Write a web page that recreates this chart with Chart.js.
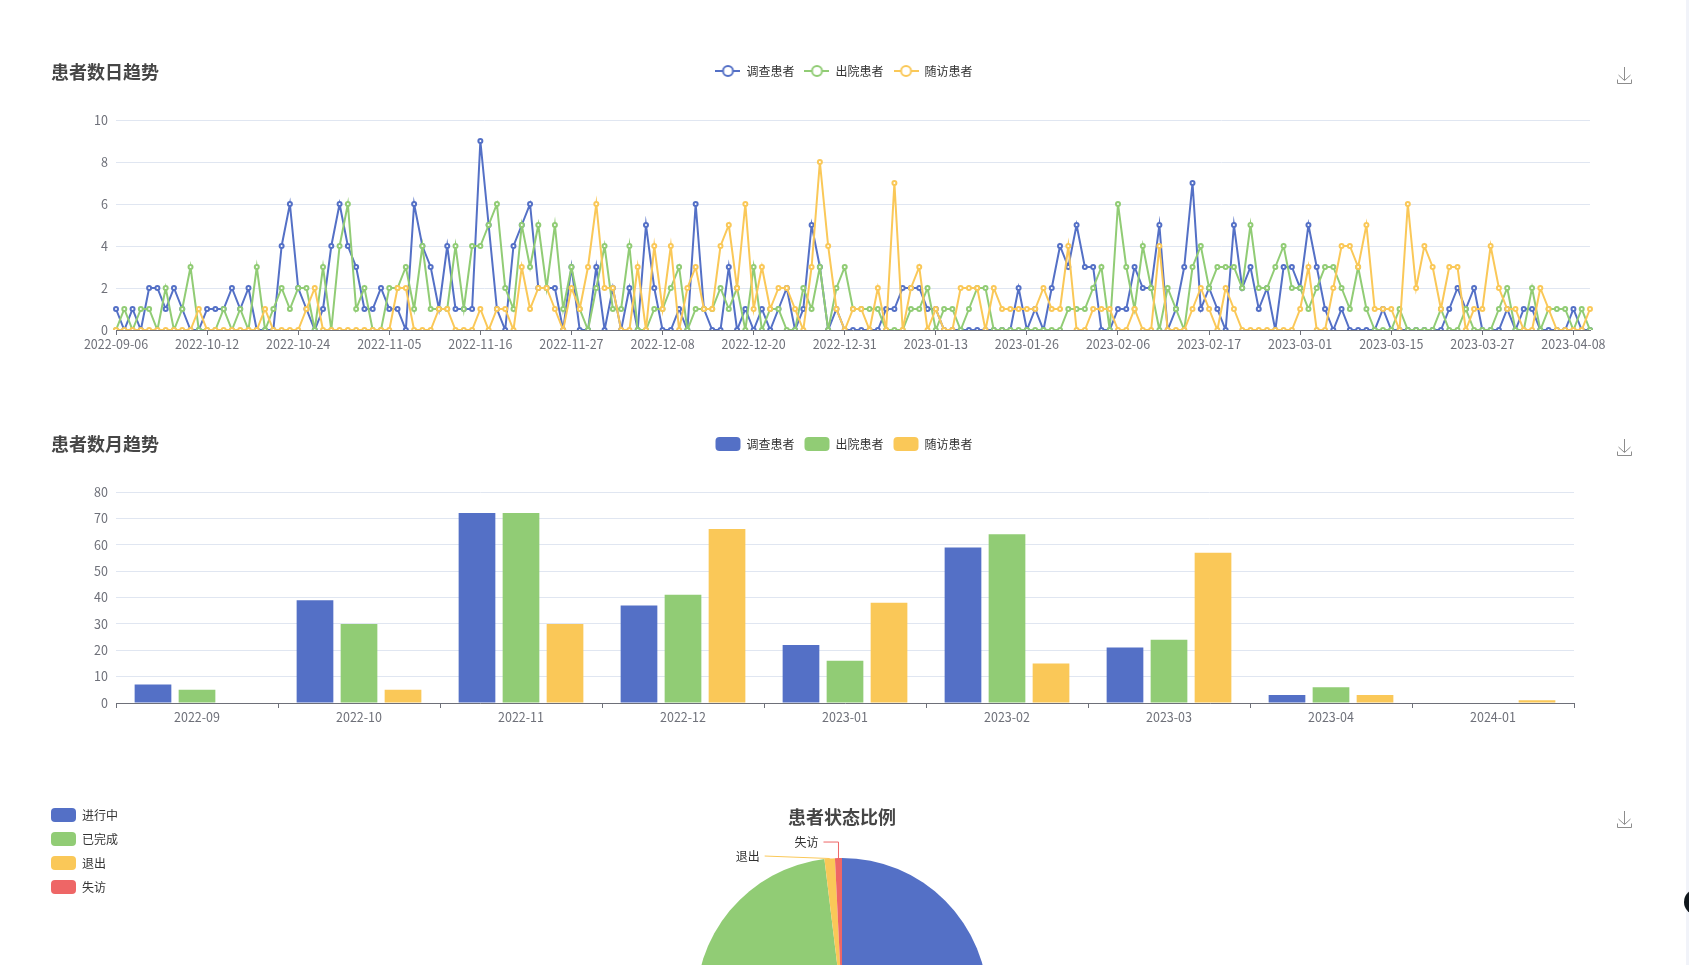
<!DOCTYPE html>
<html lang="zh">
<head>
<meta charset="utf-8">
<title>患者统计</title>
<script src="https://cdn.jsdelivr.net/npm/chart.js@4"></script>
<style>
  html, body { margin: 0; height: 100%; overflow: hidden; background: #fff; }
  canvas { position: absolute; left: 0; }
  #lineChart { top: 55px; }
  #barChart { top: 427px; }
  #pieChart { top: 798px; left: 1px; }
  .save { position: absolute; left: 1617px; width: 15px; height: 17px; }
  .strip { position: absolute; left: 1686px; top: 0; width: 3px; height: 100%; background: #f1f3f9; }
  .dot { position: absolute; left: 1684px; top: 889px; width: 26px; height: 26px; border-radius: 50%; background: #10181c; }
</style>
</head>
<body>
<canvas id="lineChart" width="1682" height="299"></canvas>
<canvas id="barChart" width="1682" height="300"></canvas>
<canvas id="pieChart" width="1682" height="412"></canvas>

<svg class="save" style="top:67px" viewBox="0 0 15 17"><path d="M7.5 0V13M1.5 8L7.5 13.5L13.5 8M.5 12.5V16.5H14.5V12.5" fill="none" stroke="#8c8c8c"/></svg>
<svg class="save" style="top:439px" viewBox="0 0 15 17"><path d="M7.5 0V13M1.5 8L7.5 13.5L13.5 8M.5 12.5V16.5H14.5V12.5" fill="none" stroke="#8c8c8c"/></svg>
<svg class="save" style="top:811px" viewBox="0 0 15 17"><path d="M7.5 0V13M1.5 8L7.5 13.5L13.5 8M.5 12.5V16.5H14.5V12.5" fill="none" stroke="#8c8c8c"/></svg>
<div class="strip"></div>
<div class="dot"></div>

<script>
const FONT = '"Noto Sans CJK SC", "Noto Sans", sans-serif';
const BLUE = "#5470c6";
const GREEN = "#91cc75";
const YELLOW = "#fac858";
const RED = "#ee6666";
Chart.defaults.font.family = FONT;
Chart.defaults.font.size = 12;
Chart.defaults.animation = false;

// ------------------------------------
// data
// ------------------------------------
const seriesNames = ["调查患者", "出院患者", "随访患者"];

// only every 11th date is printed on the axis, the others are estimates
const dayLabels = [
  "2022-09-06", "2022-09-07", "2022-09-08", "2022-09-09", "2022-09-13", "2022-09-15", "2022-09-19", "2022-09-22", "2022-09-26", "2022-09-29", "2022-10-08",
  "2022-10-12", "2022-10-13", "2022-10-14", "2022-10-15", "2022-10-16", "2022-10-17", "2022-10-18", "2022-10-19", "2022-10-20", "2022-10-21", "2022-10-23",
  "2022-10-24", "2022-10-25", "2022-10-26", "2022-10-27", "2022-10-28", "2022-10-29", "2022-10-30", "2022-10-31", "2022-11-01", "2022-11-02", "2022-11-04",
  "2022-11-05", "2022-11-06", "2022-11-07", "2022-11-08", "2022-11-09", "2022-11-10", "2022-11-11", "2022-11-12", "2022-11-13", "2022-11-14", "2022-11-15",
  "2022-11-16", "2022-11-17", "2022-11-18", "2022-11-19", "2022-11-20", "2022-11-21", "2022-11-22", "2022-11-23", "2022-11-24", "2022-11-25", "2022-11-26",
  "2022-11-27", "2022-11-28", "2022-11-29", "2022-11-30", "2022-12-01", "2022-12-02", "2022-12-03", "2022-12-04", "2022-12-05", "2022-12-06", "2022-12-07",
  "2022-12-08", "2022-12-09", "2022-12-10", "2022-12-11", "2022-12-12", "2022-12-13", "2022-12-14", "2022-12-15", "2022-12-16", "2022-12-17", "2022-12-19",
  "2022-12-20", "2022-12-21", "2022-12-22", "2022-12-23", "2022-12-24", "2022-12-25", "2022-12-26", "2022-12-27", "2022-12-28", "2022-12-29", "2022-12-30",
  "2022-12-31", "2023-01-01", "2023-01-02", "2023-01-03", "2023-01-04", "2023-01-05", "2023-01-06", "2023-01-08", "2023-01-09", "2023-01-10", "2023-01-12",
  "2023-01-13", "2023-01-14", "2023-01-15", "2023-01-16", "2023-01-17", "2023-01-18", "2023-01-19", "2023-01-20", "2023-01-21", "2023-01-23", "2023-01-25",
  "2023-01-26", "2023-01-27", "2023-01-28", "2023-01-29", "2023-01-30", "2023-01-31", "2023-02-01", "2023-02-02", "2023-02-03", "2023-02-04", "2023-02-05",
  "2023-02-06", "2023-02-07", "2023-02-08", "2023-02-09", "2023-02-10", "2023-02-11", "2023-02-12", "2023-02-13", "2023-02-14", "2023-02-15", "2023-02-16",
  "2023-02-17", "2023-02-18", "2023-02-19", "2023-02-20", "2023-02-21", "2023-02-22", "2023-02-23", "2023-02-24", "2023-02-25", "2023-02-26", "2023-02-28",
  "2023-03-01", "2023-03-02", "2023-03-03", "2023-03-04", "2023-03-06", "2023-03-07", "2023-03-08", "2023-03-09", "2023-03-10", "2023-03-12", "2023-03-14",
  "2023-03-15", "2023-03-16", "2023-03-17", "2023-03-18", "2023-03-19", "2023-03-20", "2023-03-21", "2023-03-22", "2023-03-23", "2023-03-24", "2023-03-26",
  "2023-03-27", "2023-03-28", "2023-03-29", "2023-03-30", "2023-03-31", "2023-04-01", "2023-04-02", "2023-04-03", "2023-04-04", "2023-04-05", "2023-04-07",
  "2023-04-08", "2023-04-09", "2023-04-10",
];

const dailySurvey = [
  1, 0, 1, 0, 2, 2, 1, 2, 1, 0,
  0, 1, 1, 1, 2, 1, 2, 0, 0, 0,
  4, 6, 2, 1, 0, 1, 4, 6, 4, 3,
  1, 1, 2, 1, 1, 0, 6, 4, 3, 1,
  4, 1, 1, 1, 9, 5, 1, 0, 4, 5,
  6, 2, 2, 2, 0, 3, 0, 0, 3, 0,
  2, 0, 2, 0, 5, 2, 0, 0, 1, 0,
  6, 1, 0, 0, 3, 0, 1, 0, 1, 0,
  1, 2, 0, 1, 5, 3, 0, 1, 0, 0,
  0, 0, 0, 1, 1, 2, 2, 2, 1, 1,
  0, 0, 0, 0, 0, 0, 0, 0, 0, 2,
  0, 1, 0, 2, 4, 3, 5, 3, 3, 0,
  0, 1, 1, 3, 2, 2, 5, 0, 1, 3,
  7, 1, 2, 1, 0, 5, 2, 3, 1, 2,
  0, 3, 3, 2, 5, 3, 1, 0, 1, 0,
  0, 0, 0, 1, 0, 0, 0, 0, 0, 0,
  0, 1, 2, 1, 2, 0, 0, 0, 1, 0,
  1, 1, 0, 0, 0, 0, 1, 0, 0,
];
const dailyDischarged = [
  0, 1, 0, 1, 1, 0, 2, 0, 1, 3,
  0, 0, 0, 1, 0, 1, 0, 3, 0, 1,
  2, 1, 2, 2, 0, 3, 0, 4, 6, 1,
  2, 0, 0, 2, 2, 3, 1, 4, 1, 1,
  1, 4, 1, 4, 4, 5, 6, 2, 1, 5,
  3, 5, 2, 5, 1, 3, 1, 0, 2, 4,
  1, 1, 4, 0, 0, 1, 1, 2, 3, 0,
  1, 1, 1, 2, 1, 2, 0, 3, 0, 1,
  1, 0, 0, 2, 1, 3, 0, 2, 3, 1,
  1, 1, 1, 0, 0, 0, 1, 1, 2, 0,
  1, 1, 0, 1, 2, 2, 0, 0, 0, 0,
  0, 0, 0, 0, 0, 1, 1, 1, 2, 3,
  0, 6, 3, 1, 4, 2, 0, 2, 1, 0,
  3, 4, 2, 3, 3, 3, 2, 5, 2, 2,
  3, 4, 2, 2, 1, 2, 3, 3, 2, 1,
  3, 1, 0, 0, 0, 1, 0, 0, 0, 0,
  1, 0, 0, 1, 0, 0, 0, 1, 2, 0,
  0, 2, 0, 1, 1, 1, 0, 1, 0,
];
const dailyFollowUp = [
  0, 0, 0, 0, 0, 0, 0, 0, 0, 0,
  1, 0, 0, 0, 0, 0, 0, 0, 1, 0,
  0, 0, 0, 1, 2, 0, 0, 0, 0, 0,
  0, 0, 0, 0, 2, 2, 0, 0, 0, 1,
  1, 0, 0, 0, 1, 0, 1, 1, 0, 3,
  1, 2, 2, 1, 0, 2, 1, 3, 6, 2,
  2, 0, 0, 3, 0, 4, 1, 4, 0, 2,
  3, 1, 1, 4, 5, 2, 6, 1, 3, 1,
  2, 2, 1, 0, 3, 8, 4, 1, 0, 1,
  1, 0, 2, 0, 7, 0, 2, 3, 0, 1,
  0, 0, 2, 2, 2, 0, 2, 1, 1, 1,
  1, 1, 2, 1, 1, 4, 0, 0, 1, 1,
  1, 0, 0, 1, 0, 0, 4, 0, 0, 0,
  1, 2, 1, 0, 2, 1, 0, 0, 0, 0,
  0, 0, 0, 1, 3, 0, 0, 2, 4, 4,
  3, 5, 1, 1, 1, 0, 6, 2, 4, 3,
  1, 3, 3, 0, 1, 1, 4, 2, 1, 1,
  0, 0, 2, 1, 0, 0, 0, 0, 1,
];

const monthLabels = ["2022-09", "2022-10", "2022-11", "2022-12", "2023-01", "2023-02", "2023-03", "2023-04", "2024-01"];
const monthlySurvey = [7, 39, 72, 37, 22, 59, 21, 3, 0];
const monthlyDischarged = [5, 30, 72, 41, 16, 64, 24, 6, 0];
const monthlyFollowUp = [0, 5, 30, 66, 38, 15, 57, 3, 1];

const statusLabels = ["进行中", "已完成", "退出", "失访"];
// the blue/green split is below the fold, so those two are a guess
const statusValues = [130, 125, 3, 2];

const TICK_EVERY = 11;
const TICK_FONT = { size: 12.5 };

// ------------------------------------
// shared bits
// ------------------------------------
// title shares a row with the legend, so it takes no height of its own
function titleOptions(text, align) {
  return {
    display: true,
    text,
    align,
    color: "#464646",
    font: { size: 18, weight: "bold", lineHeight: 1.2 },
    padding: { top: 6, bottom: -27.6 },
  };
}

// room under the legend, and the header row runs the full canvas width
// even though the plot stops short of it on the right
const headerRow = {
  id: "headerRow",
  beforeInit(chart) {
    const gap = chart.options.plugins.headerRow.gap;
    const fit = chart.legend.fit;
    chart.legend.fit = function () {
      fit.call(this);
      this.height += gap;
    };
  },
  afterLayout(chart) {
    chart.titleBlock.left = chart.options.plugins.headerRow.titleLeft;
    chart.legend.left = 3;
    chart.legend.right = chart.width + 3;
  },
};

function lineIcon(color) {
  const c = document.createElement("canvas");
  c.width = 25;
  c.height = 14;
  const g = c.getContext("2d");
  g.strokeStyle = color;
  g.lineWidth = 2;
  g.beginPath();
  g.moveTo(0, 7);
  g.lineTo(25, 7);
  g.stroke();
  g.beginPath();
  g.arc(12.5, 7, 5, 0, Math.PI * 2);
  g.fillStyle = "#fff";
  g.fill();
  g.stroke();
  return c;
}

function valueAxis(max, step) {
  return {
    min: 0,
    max,
    ticks: { stepSize: step, color: "#6e7079", padding: 8, font: TICK_FONT },
    grid: { color: "#e0e6f1", drawTicks: false },
    border: { display: false },
    afterFit(scale) {
      scale.width = 116;
    },
  };
}

// ------------------------------------
// daily line chart
// ------------------------------------
const lineColors = [BLUE, GREEN, YELLOW];
const lineValues = [dailySurvey, dailyDischarged, dailyFollowUp];

new Chart(document.getElementById("lineChart"), {
  type: "line",
  plugins: [headerRow],
  data: {
    labels: dayLabels,
    datasets: seriesNames.map((name, i) => ({
      label: name,
      data: lineValues[i],
      borderColor: lineColors[i],
      backgroundColor: "#fff",
      borderWidth: 2,
      pointRadius: 2,
      pointBorderWidth: 2,
      pointBackgroundColor: "#fff",
      tension: 0,
      order: 3 - i,
    })),
  },
  options: {
    responsive: false,
    layout: { padding: { right: 92 } },
    plugins: {
      title: titleOptions("患者数日趋势", "start"),
      headerRow: { gap: 33, titleLeft: 51 },
      tooltip: { enabled: false },
      legend: {
        labels: {
          color: "#333",
          padding: 10,
          usePointStyle: true,
          pointStyleWidth: 25,
          boxHeight: 14,
          generateLabels: (chart) =>
            chart.data.datasets.map((d, i) => ({
              text: d.label,
              fontColor: "#333",
              pointStyle: lineIcon(lineColors[i]),
              datasetIndex: i,
            })),
        },
      },
    },
    scales: {
      x: {
        afterBuildTicks(scale) {
          scale.ticks = scale.ticks.filter((t, i) => i % TICK_EVERY === 0);
        },
        ticks: { autoSkip: false, maxRotation: 0, color: "#6e7079", padding: 2, font: TICK_FONT },
        grid: { drawOnChartArea: false, color: "#6e7079", tickLength: 5 },
        border: { color: "#6e7079" },
      },
      y: valueAxis(10, 2),
    },
  },
});

// ------------------------------------
// monthly bar chart
// ------------------------------------
const barValues = [monthlySurvey, monthlyDischarged, monthlyFollowUp];

new Chart(document.getElementById("barChart"), {
  type: "bar",
  plugins: [headerRow],
  data: {
    labels: monthLabels,
    datasets: seriesNames.map((name, i) => ({
      label: name,
      data: barValues[i],
      backgroundColor: lineColors[i],
      categoryPercentage: 0.815,
      barPercentage: 0.834,
    })),
  },
  options: {
    responsive: false,
    layout: { padding: { right: 108 } },
    plugins: {
      title: titleOptions("患者数月趋势", "start"),
      headerRow: { gap: 31, titleLeft: 51 },
      tooltip: { enabled: false },
      legend: {
        labels: {
          color: "#333",
          padding: 10,
          boxWidth: 25,
          boxHeight: 14,
          useBorderRadius: true,
          borderRadius: 4,
        },
      },
    },
    scales: {
      x: {
        ticks: { maxRotation: 0, color: "#6e7079", padding: 2, font: TICK_FONT },
        grid: { drawOnChartArea: false, color: "#6e7079", tickLength: 5 },
        border: { color: "#6e7079" },
      },
      y: valueAxis(80, 10),
    },
  },
});

// ------------------------------------
// status pie, mostly cut off by the page bottom
// ------------------------------------
// how far the leader line climbs and runs left, only the two labels above the fold
const leaderRise = [null, null, 2.5, 16];
const leaderRun = [null, null, 65, 15];

const pieLabels = {
  id: "pieLabels",
  afterDatasetsDraw(chart) {
    const { ctx } = chart;
    chart.getDatasetMeta(0).data.forEach((arc, i) => {
      if (leaderRise[i] === null) return;
      const mid = (arc.startAngle + arc.endAngle) / 2;
      const x = arc.x + Math.cos(mid) * arc.outerRadius;
      const y = arc.y + Math.sin(mid) * arc.outerRadius;
      const color = chart.data.datasets[0].backgroundColor[i];
      const top = y - leaderRise[i];
      const end = x - leaderRun[i];
      ctx.save();
      ctx.strokeStyle = color;
      ctx.lineWidth = 1;
      ctx.beginPath();
      ctx.moveTo(x, y);
      if (leaderRun[i] < 30) ctx.lineTo(x, top);
      ctx.lineTo(end, top);
      ctx.stroke();
      ctx.fillStyle = "#333";
      ctx.font = "12px " + FONT;
      ctx.textAlign = "right";
      ctx.textBaseline = "middle";
      ctx.fillText(statusLabels[i], end - 5, top);
      ctx.restore();
    });
  },
};

new Chart(document.getElementById("pieChart"), {
  type: "pie",
  plugins: [pieLabels],
  data: {
    labels: statusLabels,
    datasets: [
      {
        data: statusValues,
        backgroundColor: [BLUE, GREEN, YELLOW, RED],
        borderWidth: 0,
        radius: 146,
      },
    ],
  },
  options: {
    responsive: false,
    layout: { padding: { left: 40, right: 40 } },
    plugins: {
      title: {
        display: true,
        text: "患者状态比例",
        color: "#464646",
        font: { size: 18, weight: "bold", lineHeight: 1.2 },
        padding: { top: 8, bottom: -29.6 },
      },
      tooltip: { enabled: false },
      legend: {
        position: "chartArea",
        align: "start",
        labels: {
          color: "#333",
          padding: 10,
          boxWidth: 25,
          boxHeight: 14,
          useBorderRadius: true,
          borderRadius: 4,
        },
      },
    },
  },
});
</script>
</body>
</html>
